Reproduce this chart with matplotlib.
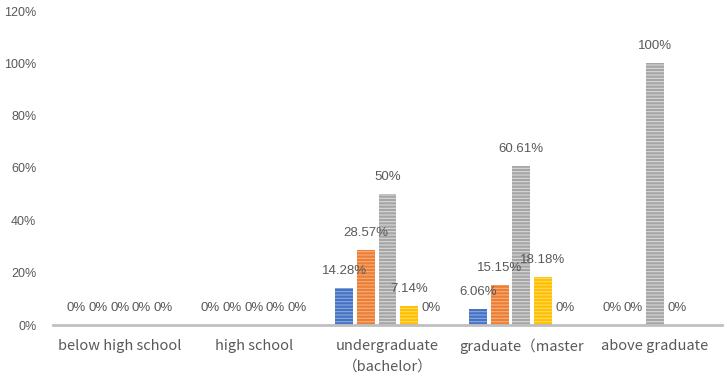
import matplotlib
matplotlib.use("Agg")
import matplotlib.pyplot as plt
import numpy as np

plt.rcParams['font.family'] = ['Liberation Sans', 'Noto Sans CJK SC', 'DejaVu Sans']
plt.rcParams['hatch.linewidth'] = 0.8

categories = ["below high school", "high school", "undergraduate\n（bachelor）",
              "graduate（master", "above graduate"]
series_colors = ["#4472C4", "#ED7D31", "#A5A5A5", "#FFC000", "#5B9BD5"]
hatch_colors = ["#8FAADC", "#F4B183", "#D9D9D9", "#FFD966", "#9DC3E6"]
s1 = [0, 0, 14.28, 6.06, 0]
s2 = [0, 0, 28.57, 15.15, 0]
s3 = [0, 0, 50, 60.61, 100]
s4 = [0, 0, 7.14, 18.18, 0]
s5 = [0, 0, 0, 0, 0]
series = [s1, s2, s3, s4, s5]
# labels shown (last group's 5th label hidden in reference)
show = [[True]*5, [True]*5, [True]*5, [True]*5, [True]*5]
show[4] = [True, True, True, True, False]
yticks = [0, 20, 40, 60, 80, 100, 120]

fig = plt.figure(figsize=(7.27, 3.76), dpi=100)
ax = fig.add_axes([53/727, 51/376, 669/727, (325-11)/376])

x = np.arange(len(categories))
step = 0.162
width = 0.134
text_color = "#595959"
for i, vals in enumerate(series):
    pos = x + (i - 2) * step
    bars = ax.bar(pos, vals, width=width, color=series_colors[i],
                  edgecolor=hatch_colors[i], linewidth=0, hatch='-----')
    for j, (p, v) in enumerate(zip(pos, vals)):
        if not show[j][i]:
            continue
        lbl = f"{v:g}%"
        ax.annotate(lbl, (p, v), xytext=(0, 8), textcoords='offset points',
                    ha='center', va='bottom', fontsize=9.5, color=text_color)

ax.set_xlim(-0.5, len(categories) - 0.5)
ax.set_ylim(0, 120)
ax.set_yticks(yticks)
ax.set_yticklabels([f"{t}%" for t in yticks], fontsize=9, color=text_color)
ax.set_xticks(x)
ax.set_xticklabels(categories, fontsize=10.5, color=text_color, va='top',
                   family=['Noto Sans CJK SC', 'DejaVu Sans'], linespacing=1.6)
ax.tick_params(axis='x', length=0, pad=10)
ax.tick_params(axis='y', length=0, pad=12)
for s in ['top', 'right', 'left']:
    ax.spines[s].set_visible(False)
ax.spines['bottom'].set_color('#BFBFBF')
ax.spines['bottom'].set_linewidth(2)

fig.savefig("out.png", dpi=100)
